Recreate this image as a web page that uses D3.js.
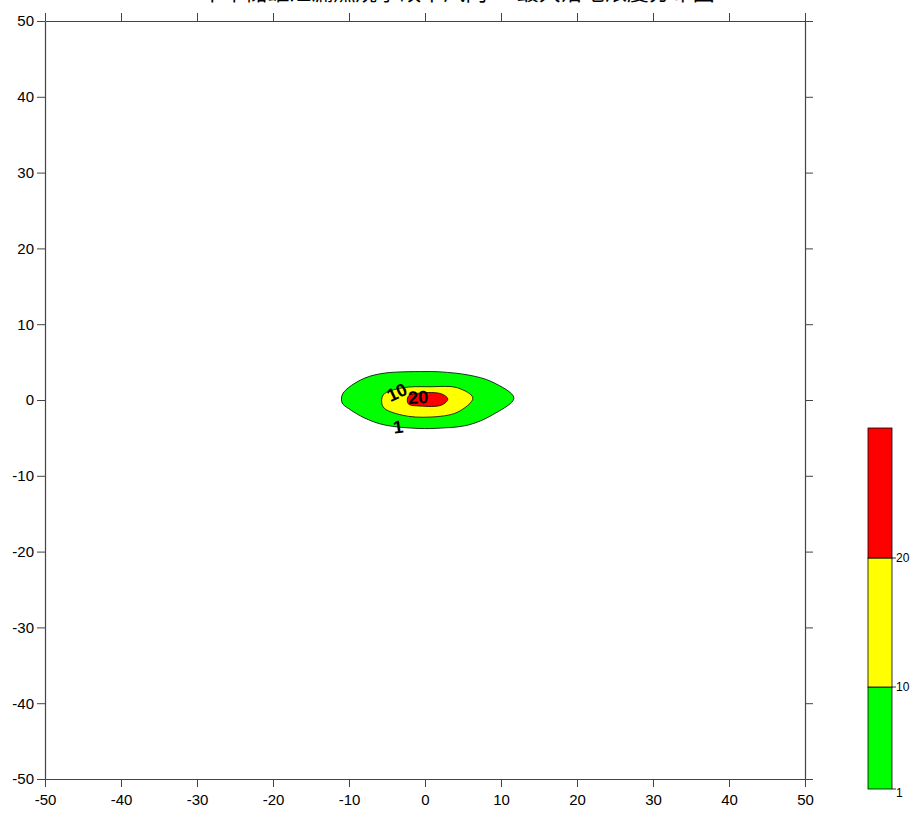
<!DOCTYPE html>
<html>
<head>
<meta charset="utf-8">
<script src="https://cdn.jsdelivr.net/npm/d3@7"></script>
<style>
  html, body { margin: 0; padding: 0; background: #fff; }
  svg { display: block; }
  text { font-family: "Liberation Sans", Arial, sans-serif; }
</style>
</head>
<body>
<svg id="chart" width="916" height="822"></svg>
<script>
// Chart title
const title = "甲苯储罐泄漏燃烧事故下风向CO最大落地浓度分布图";

// Axis ticks (metres from the source)
const xTicks = [-50, -40, -30, -20, -10, 0, 10, 20, 30, 40, 50];
const yTicks = [-50, -40, -30, -20, -10, 0, 10, 20, 30, 40, 50];

// Contour levels, fill colours and the colour-bar range
const levels = [1, 10, 20];
const levelColors = ["#00ff00", "#ffff00", "#ff0000"];
const barTop = 30;

// Contour rings [x, y] for each level
const ring1 = [[-10.9, 0.66], [-10.9, -0.4], [-10.1, -1.1], [-7.9, -2.4], [-5.3, -3.3],
  [-0.9, -3.75], [2.2, -3.7], [5.7, -3.3], [8.8, -2.0], [11.7, 0.26], [8.8, 2.4],
  [5.7, 3.3], [2.2, 3.7], [0.7, 3.75], [-5.3, 3.55], [-7.9, 2.9], [-10.1, 1.6]];
const ring10 = [[-5.5, 0.66], [-5.5, -0.92], [-3.0, -2.0], [0.66, -2.25], [4.3, -1.6],
  [6.3, 0.26], [4.3, 1.6], [0.66, 1.75], [-3.0, 1.6]];
const ring20 = [[-2.2, 0.5], [-2.2, -0.5], [-0.66, -0.8], [2.2, -0.66], [3.0, 0.13],
  [2.2, 0.8], [-0.66, 0.92]];
const rings = [ring1, ring10, ring20];

// Contour labels: [x, y, text, rotation]
const contourLabels = [[-3.55, -3.5, "1", -8], [-3.7, 1.05, "10", -25], [-0.9, 0.4, "20", -3]];

const svg = d3.select("#chart");
const axisColor = "#444";

const x = d3.scaleLinear().domain([-50, 50]).range([45, 805]);
const y = d3.scaleLinear().domain([-50, 50]).range([779, 21]);

// Title (sits at the very top edge)
svg.append("text")
  .attr("x", 458).attr("y", -0.5)
  .attr("text-anchor", "middle")
  .style("font-family", "'Noto Sans CJK SC', sans-serif")
  .style("font-size", "22px")
  .attr("fill", "#000")
  .text(title);

// Filled contours
const line = d3.line().x(d => x(d[0])).y(d => y(d[1])).curve(d3.curveCatmullRomClosed.alpha(0.5));
const g = svg.append("g");
rings.forEach((r, i) => {
  g.append("path")
    .attr("d", line(r))
    .attr("fill", levelColors[i])
    .attr("stroke", "#000")
    .attr("stroke-width", 0.8);
});

contourLabels.forEach(d => {
  g.append("text")
    .attr("transform", `translate(${x(d[0])},${y(d[1])}) rotate(${d[3]})`)
    .attr("text-anchor", "middle")
    .attr("dy", "0.36em")
    .style("font-size", "18px")
    .style("font-weight", "bold")
    .attr("fill", "#000")
    .text(d[2]);
});

// Axes: labelled left and bottom, tick-only top and right
const tickFmt = d => String(d);
const axes = [
  { gen: d3.axisBottom(x).tickValues(xTicks).tickFormat(tickFmt), t: `translate(0,${y(-50)})`, pad: 7 },
  { gen: d3.axisLeft(y).tickValues(yTicks).tickFormat(tickFmt), t: `translate(${x(-50)},0)`, pad: 3 },
  { gen: d3.axisTop(x).tickValues(xTicks).tickFormat(""), t: `translate(0,${y(50)})`, pad: 3 },
  { gen: d3.axisRight(y).tickValues(yTicks).tickFormat(""), t: `translate(${x(50)},0)`, pad: 3 }
];
axes.forEach(a => {
  const ag = svg.append("g").attr("transform", a.t)
    .call(a.gen.tickSizeInner(8).tickSizeOuter(0).tickPadding(a.pad));
  ag.select(".domain").attr("stroke", axisColor).attr("stroke-width", 1.2);
  ag.selectAll(".tick line").attr("stroke", axisColor).attr("stroke-width", 1);
  ag.selectAll(".tick text")
    .style("font-family", "'Liberation Sans', Arial, sans-serif")
    .style("font-size", "15px")
    .attr("fill", "#000");
});

// Colour bar
const cb = d3.scaleLinear().domain([1, 10, 20, barTop]).range([789, 687, 558, 428]);
const cbX = 868, cbW = 24;
const bounds = levels.concat([barTop]);
const cg = svg.append("g");
levels.forEach((lv, i) => {
  cg.append("rect")
    .attr("x", cbX).attr("y", cb(bounds[i + 1]))
    .attr("width", cbW).attr("height", cb(bounds[i]) - cb(bounds[i + 1]))
    .attr("fill", levelColors[i])
    .attr("stroke", "#000").attr("stroke-width", 0.8);
});
levels.forEach(lv => {
  cg.append("line")
    .attr("x1", cbX + cbW).attr("x2", cbX + cbW + 4)
    .attr("y1", cb(lv)).attr("y2", cb(lv))
    .attr("stroke", "#000").attr("stroke-width", 0.8);
  cg.append("text")
    .attr("x", cbX + cbW + 4).attr("y", cb(lv) + (lv === 1 ? 4 : 0))
    .attr("dy", "0.35em")
    .style("font-size", "12px")
    .attr("fill", "#000")
    .text(lv);
});
</script>
</body>
</html>
